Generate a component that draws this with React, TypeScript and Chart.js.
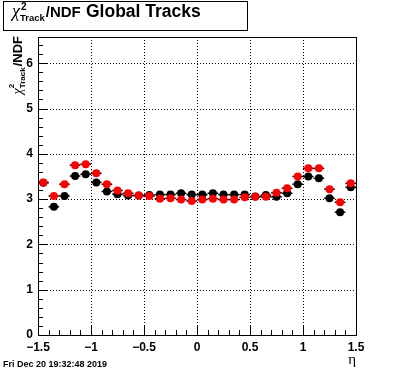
import React, { useEffect, useRef } from 'react';
import { Chart, registerables } from 'chart.js';

Chart.register(...registerables);

// ---- data ----
const etaBins = [
  -1.45, -1.35, -1.25, -1.15, -1.05, -0.95, -0.85, -0.75, -0.65, -0.55,
  -0.45, -0.35, -0.25, -0.15, -0.05, 0.05, 0.15, 0.25, 0.35, 0.45,
  0.55, 0.65, 0.75, 0.85, 0.95, 1.05, 1.15, 1.25, 1.35, 1.45,
];
const blackValues = [
  3.36, 2.83, 3.07, 3.51, 3.55, 3.37, 3.17, 3.11, 3.08, 3.08,
  3.09, 3.10, 3.10, 3.13, 3.10, 3.10, 3.13, 3.10, 3.10, 3.10,
  3.06, 3.09, 3.05, 3.13, 3.33, 3.50, 3.46, 3.02, 2.71, 3.26,
];
const redValues = [
  3.37, 3.07, 3.33, 3.75, 3.77, 3.57, 3.33, 3.19, 3.13, 3.08,
  3.07, 3.01, 3.02, 2.99, 2.96, 2.99, 3.01, 2.99, 2.99, 3.04,
  3.05, 3.05, 3.14, 3.24, 3.50, 3.68, 3.68, 3.22, 2.93, 3.35,
];
const binHalfWidth = 0.05;
const xMajorTicks = [-1.5, -1, -0.5, 0, 0.5, 1, 1.5];
const yMajorTicks = [0, 1, 2, 3, 4, 5, 6];
const xMin = -1.5;
const xMax = 1.5;
const yMin = 0;
const yMax = 6.58;
const xMinorDivisions = 30; // 0.1 steps
const yMinorStep = 0.2;
const titleMain = '/NDF';
const titleRest = 'Global Tracks';
const titleSub = 'Track';
const titleSup = '2';
const titleChi = 'χ';
const yTitleMain = '/NDF';
const xTitle = 'η';
const dateLabel = 'Fri Dec 20 19:32:48 2019';

const SANS = '"Liberation Sans", Arial, sans-serif';
const SERIF = '"Liberation Serif", "DejaVu Serif", serif';

const fmtX = (v: number) => (v < 0 ? '\u2212' + String(Math.abs(v)) : String(v));

const rootPlugin = {
  id: 'rootStyle',
  beforeDatasetsDraw(chart: any) {
    const { ctx, chartArea: a, scales } = chart;
    const x = scales.x;
    const y = scales.y;
    ctx.save();
    ctx.strokeStyle = '#000';
    ctx.lineWidth = 1;
    // dotted grid
    ctx.setLineDash([1, 2]);
    xMajorTicks.forEach((v) => {
      if (v <= xMin || v >= xMax) return;
      const px = Math.round(x.getPixelForValue(v)) + 0.5;
      ctx.beginPath();
      ctx.moveTo(px, a.top);
      ctx.lineTo(px, a.bottom);
      ctx.stroke();
    });
    yMajorTicks.forEach((v) => {
      if (v <= yMin || v >= yMax) return;
      const py = Math.round(y.getPixelForValue(v)) + 0.5;
      ctx.beginPath();
      ctx.moveTo(a.left, py);
      ctx.lineTo(a.right, py);
      ctx.stroke();
    });
    ctx.setLineDash([]);
    // ticks x
    for (let i = 0; i <= xMinorDivisions; i++) {
      const v = xMin + ((xMax - xMin) * i) / xMinorDivisions;
      const major = i % 5 === 0;
      const px = Math.round(x.getPixelForValue(v)) + 0.5;
      ctx.beginPath();
      ctx.moveTo(px, a.bottom);
      ctx.lineTo(px, a.bottom - (major ? 10 : 5));
      ctx.stroke();
    }
    // ticks y
    const nY = Math.floor((yMax - yMin) / yMinorStep + 1e-6);
    for (let i = 0; i <= nY; i++) {
      const v = yMin + i * yMinorStep;
      const major = i % 5 === 0;
      const py = Math.round(y.getPixelForValue(v)) + 0.5;
      ctx.beginPath();
      ctx.moveTo(a.left, py);
      ctx.lineTo(a.left + (major ? 10 : 5), py);
      ctx.stroke();
    }
    // frame
    ctx.strokeRect(a.left + 0.5, a.top + 0.5, a.right - a.left, a.bottom - a.top);
    ctx.restore();
  },
  beforeDatasetDraw(chart: any, args: any) {
    const { ctx } = chart;
    const x = chart.scales.x;
    const y = chart.scales.y;
    const ds = chart.data.datasets[args.index];
    ctx.save();
    ctx.strokeStyle = '#000';
    ctx.lineWidth = 1.5;
    ds.data.forEach((p: any) => {
      const py = y.getPixelForValue(p.y);
      ctx.beginPath();
      ctx.moveTo(x.getPixelForValue(p.x - binHalfWidth), py);
      ctx.lineTo(x.getPixelForValue(p.x + binHalfWidth), py);
      ctx.stroke();
    });
    ctx.restore();
  },
  afterDraw(chart: any) {
    const { ctx, chartArea: a } = chart;
    ctx.save();
    ctx.fillStyle = '#000';
    ctx.textBaseline = 'alphabetic';
    ctx.textAlign = 'left';

    // title box
    ctx.fillStyle = '#fff';
    ctx.fillRect(3, 1, 245, 30);
    ctx.strokeStyle = '#000';
    ctx.lineWidth = 1;
    ctx.strokeRect(3.5, 1.5, 244, 29);
    ctx.fillStyle = '#000';
    let cx = 12;
    ctx.font = 'italic 18px ' + SERIF;
    ctx.fillText(titleChi, cx, 17);
    cx += ctx.measureText(titleChi).width;
    ctx.font = 'bold 10px ' + SANS;
    ctx.fillText(titleSup, cx + 1, 10);
    const wSup = ctx.measureText(titleSup).width;
    ctx.font = 'bold 9.5px ' + SANS;
    ctx.fillText(titleSub, cx, 21);
    const wSub = ctx.measureText(titleSub).width;
    cx += Math.max(wSup, wSub) + 1;
    ctx.font = 'bold 15px ' + SANS;
    ctx.fillText(titleMain, cx, 17);
    ctx.font = 'bold 17.5px ' + SANS;
    ctx.fillText(titleRest, 86, 17);

    // y title (rotated)
    ctx.font = 'italic 14px ' + SERIF;
    const wChi = ctx.measureText(titleChi).width;
    ctx.font = 'bold 8px ' + SANS;
    const wS = Math.max(ctx.measureText(titleSup).width, ctx.measureText(titleSub).width);
    ctx.font = 'bold 13px ' + SANS;
    const wMain = ctx.measureText(yTitleMain).width;
    const total = wChi + wS + 1 + wMain;
    ctx.translate(22, a.top - 1 + total);
    ctx.rotate(-Math.PI / 2);
    let tx = 0;
    ctx.font = 'italic 14px ' + SERIF;
    ctx.fillText(titleChi, tx, 0);
    tx += wChi;
    ctx.font = 'bold 8px ' + SANS;
    ctx.fillText(titleSup, tx, -8);
    ctx.fillText(titleSub, tx, 3);
    tx += wS + 1;
    ctx.font = 'bold 13px ' + SANS;
    ctx.fillText(yTitleMain, tx, 0);
    ctx.setTransform(1, 0, 0, 1, 0, 0);

    // x title
    ctx.font = '15px ' + SERIF;
    ctx.textAlign = 'right';
    ctx.fillText(xTitle, a.right, 364);

    // date
    ctx.textAlign = 'left';
    ctx.font = 'bold 9px ' + SANS;
    ctx.fillText(dateLabel, 3, 367);
    ctx.restore();
  },
};

export default function App() {
  const ref = useRef<HTMLCanvasElement>(null);
  useEffect(() => {
    const canvas = ref.current;
    if (!canvas) return;
    const chart = new Chart(canvas, {
      type: 'scatter',
      data: {
        datasets: [
          {
            label: 'red',
            data: etaBins.map((e, i) => ({ x: e, y: redValues[i] })),
            backgroundColor: '#ff0000',
            borderWidth: 0,
            pointRadius: 4,
            order: 0,
          },
          {
            label: 'black',
            data: etaBins.map((e, i) => ({ x: e, y: blackValues[i] })),
            backgroundColor: '#000000',
            borderWidth: 0,
            pointRadius: 4,
            order: 1,
          },
        ],
      },
      options: {
        animation: false,
        responsive: false,
        devicePixelRatio: 1,
        layout: { padding: { left: 0, top: 37, right: 40, bottom: 0 } },
        plugins: { legend: { display: false }, tooltip: { enabled: false }, title: { display: false } },
        scales: {
          x: {
            type: 'linear',
            min: xMin,
            max: xMax,
            afterBuildTicks: (s: any) => {
              s.ticks = xMajorTicks.map((v) => ({ value: v }));
            },
            afterFit: (s: any) => {
              s.height = 37;
            },
            grid: { display: false, drawTicks: false },
            border: { display: false },
            ticks: {
              color: '#000',
              font: { family: SANS, weight: 'bold', size: 12 },
              padding: 5,
              maxRotation: 0,
              autoSkip: false,
              callback: (v: any) => fmtX(Number(v)),
            },
          },
          y: {
            type: 'linear',
            min: yMin,
            max: yMax,
            afterBuildTicks: (s: any) => {
              s.ticks = yMajorTicks.map((v) => ({ value: v }));
            },
            afterFit: (s: any) => {
              s.width = 38;
            },
            grid: { display: false, drawTicks: false },
            border: { display: false },
            ticks: {
              color: '#000',
              font: { family: SANS, weight: 'bold', size: 12 },
              padding: 5,
              autoSkip: false,
              callback: (v: any) => String(v),
            },
          },
        },
      },
      plugins: [rootPlugin],
    } as any);
    return () => chart.destroy();
  }, []);
  return (
    <div style={{ position: 'absolute', left: 0, top: 0, width: 396, height: 372, background: '#fff' }}>
      <canvas ref={ref} width={396} height={372} style={{ width: 396, height: 372, display: 'block' }} />
    </div>
  );
}
